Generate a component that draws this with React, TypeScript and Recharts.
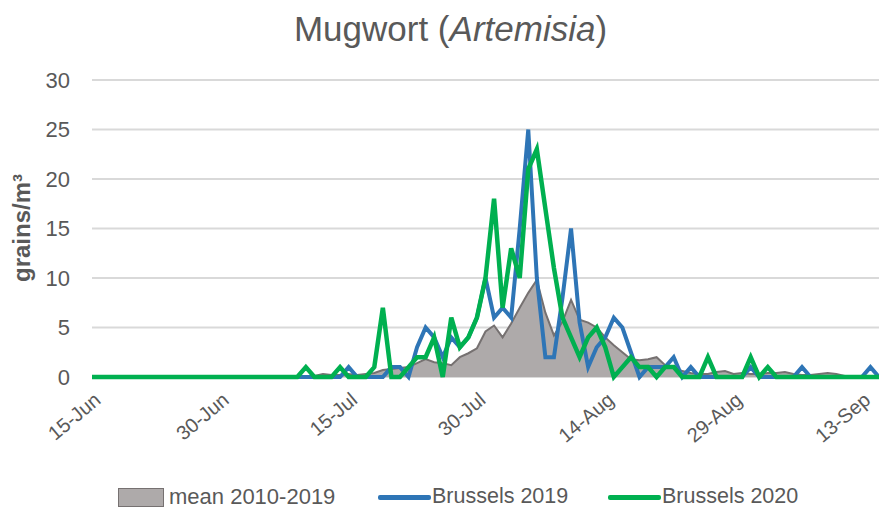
import React from 'react';
import { ComposedChart, Area, Line, XAxis, YAxis, CartesianGrid } from 'recharts';

// Category labels: every day from 15-Jun to 15-Sep
const MONTH_SPANS: [string, number, number][] = [
  ['Jun', 15, 30],
  ['Jul', 1, 31],
  ['Aug', 1, 31],
  ['Sep', 1, 15],
];
const dates: string[] = MONTH_SPANS.flatMap(([m, a, b]) =>
  Array.from({ length: b - a + 1 }, (_, i) => `${a + i}-${m}`)
);

const mean2010_2019 = [
  0, 0, 0, 0, 0, 0, 0, 0, 0, 0,
  0, 0, 0, 0, 0, 0, 0, 0, 0, 0,
  0, 0, 0, 0, 0, 0, 0.1, 0.3, 0.2, 0.2,
  0.3, 0.2, 0.3, 0.4, 0.7, 0.8, 0.9, 1.0, 1.4, 1.8,
  1.5, 1.4, 1.2, 2.0, 2.4, 2.9, 4.6, 5.2, 4.0, 5.4,
  7.0, 8.5, 9.8, 6.5, 4.2, 5.6, 7.8, 5.8, 5.5, 5.0,
  4.0, 3.2, 2.5, 1.8, 1.7, 1.8, 2.0, 1.2, 1.0, 0.6,
  0.4, 0.3, 0.3, 0.5, 0.6, 0.3, 0.4, 0.3, 0.3, 0.4,
  0.4, 0.5, 0.3, 0.2, 0.2, 0.3, 0.4, 0.3, 0.1, 0.1,
  0.1, 0.1, 0,
];

const brussels2019 = [
  0, 0, 0, 0, 0, 0, 0, 0, 0, 0,
  0, 0, 0, 0, 0, 0, 0, 0, 0, 0,
  0, 0, 0, 0, 0, 0, 0, 0, 0, 0,
  1, 0, 0, 0, 0, 1, 1, 0, 3, 5,
  4, 2, 4, 3, 4, 6, 10, 6, 7, 6,
  15, 25, 10, 2, 2, 8, 15, 5.5, 1, 3,
  4, 6, 5, 2.5, 0, 1, 1, 1, 2, 0,
  1, 0, 0, 0, 0, 0, 0, 1, 0, 0,
  0, 0, 0, 1, 0, 0, 0, 0, 0, 0,
  0, 1, 0,
];

const brussels2020 = [
  0, 0, 0, 0, 0, 0, 0, 0, 0, 0,
  0, 0, 0, 0, 0, 0, 0, 0, 0, 0,
  0, 0, 0, 0, 0, 1, 0, 0, 0, 1,
  0, 0, 0, 1, 7, 0, 0, 1, 2, 2,
  4, 0, 6, 3, 4, 6, 10, 18, 7, 13,
  10, 21, 23, 17, 11, 6, 4, 2, 4, 5,
  3, 0, 1, 2, 1, 1, 0, 1, 1, 0,
  0, 0, 2, 0, 0, 0, 0, 2, 0, 1,
  0, 0, 0, 0, 0, 0, 0, 0, 0, 0,
  0, 0, 0,
];

const yTicks = [0, 5, 10, 15, 20, 25, 30];
const seriesNames = ['mean 2010-2019', 'Brussels 2019', 'Brussels 2020'];

const data = dates.map((date, i) => ({
  date,
  mean: mean2010_2019[i],
  b2019: brussels2019[i],
  b2020: brussels2020[i],
}));

const FONT = '"Liberation Sans", Arial, sans-serif';
const TXT = '#595959';
const GREY_FILL = '#AEAAAA';
const GREY_LINE = '#767171';
const BLUE = '#2E75B6';
const GREEN = '#00B050';

const XTick = (props: any) => {
  const { x, y, payload } = props;
  const px = x + 10;
  const py = y + 17;
  return (
    <text
      x={px}
      y={py}
      transform={`rotate(-40 ${px} ${py})`}
      textAnchor="end"
      fontSize={20}
      fill={TXT}
      fontFamily={FONT}
    >
      {payload.value}
    </text>
  );
};

const YLabel = () => (
  <text
    x={30}
    y={228}
    transform="rotate(-90 30 228)"
    textAnchor="middle"
    fontSize={24}
    fontWeight="bold"
    fill={TXT}
    fontFamily={FONT}
  >
    grains/m³
  </text>
);

export default function App() {
  return (
    <div style={{ position: 'absolute', left: 0, top: 0, width: 879, height: 512, background: '#fff', fontFamily: FONT }}>
      <div
        style={{
          position: 'absolute',
          left: 0,
          width: 901,
          top: 8,
          textAlign: 'center',
          fontSize: 35,
          color: TXT,
          lineHeight: '42px',
        }}
      >
        Mugwort (<i>Artemisia</i>)
      </div>
      <ComposedChart
        width={879}
        height={512}
        data={data}
        margin={{ top: 80, right: 0, left: 0, bottom: 75 }}
      >
        <CartesianGrid vertical={false} stroke="#D9D9D9" strokeWidth={2} />
        <XAxis
          dataKey="date"
          scale="point"
          padding={{ left: 0, right: 0 }}
          interval={14}
          height={60}
          tickLine={false}
          axisLine={false}
          tick={<XTick />}
        />
        <YAxis
          width={92}
          domain={[0, 30]}
          ticks={yTicks}
          axisLine={false}
          tickLine={false}
          tickMargin={16}
          tick={{ fontSize: 22, fill: TXT, fontFamily: FONT }}
          label={<YLabel />}
        />
        <Area
          type="linear"
          dataKey="mean"
          name={seriesNames[0]}
          fill={GREY_FILL}
          fillOpacity={1}
          stroke={GREY_LINE}
          strokeWidth={2}
          isAnimationActive={false}
          dot={false}
          activeDot={false}
        />
        <Line
          type="linear"
          dataKey="b2019"
          name={seriesNames[1]}
          stroke={BLUE}
          strokeWidth={4}
          dot={false}
          activeDot={false}
          isAnimationActive={false}
        />
        <Line
          type="linear"
          dataKey="b2020"
          name={seriesNames[2]}
          stroke={GREEN}
          strokeWidth={4.5}
          dot={false}
          activeDot={false}
          isAnimationActive={false}
        />
      </ComposedChart>
      {/* Legend */}
      <div style={{ position: 'absolute', left: 118, top: 488, width: 44, height: 17, background: GREY_FILL, border: `1px solid ${GREY_LINE}` }} />
      <div style={{ position: 'absolute', left: 169, top: 483, fontSize: 22, color: TXT, lineHeight: '27px', whiteSpace: 'nowrap' }}>{seriesNames[0]}</div>
      <div style={{ position: 'absolute', left: 378, top: 495, width: 53, height: 5, background: BLUE, borderRadius: 2 }} />
      <div style={{ position: 'absolute', left: 432, top: 483, fontSize: 21.5, color: TXT, lineHeight: '27px', whiteSpace: 'nowrap' }}>{seriesNames[1]}</div>
      <div style={{ position: 'absolute', left: 608, top: 495, width: 53, height: 5, background: GREEN, borderRadius: 2 }} />
      <div style={{ position: 'absolute', left: 662, top: 483, fontSize: 21.5, color: TXT, lineHeight: '27px', whiteSpace: 'nowrap' }}>{seriesNames[2]}</div>
    </div>
  );
}
